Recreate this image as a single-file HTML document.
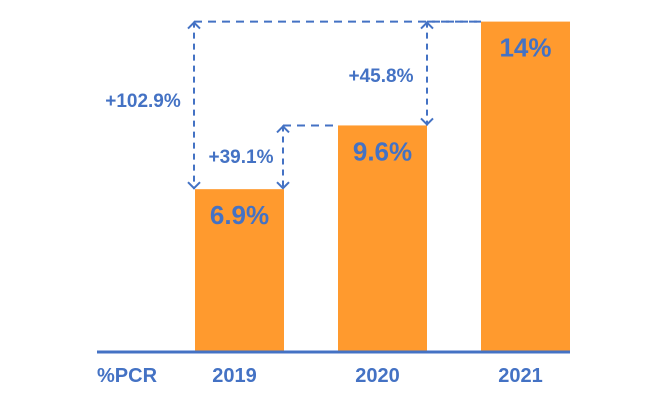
<!DOCTYPE html>
<html><head><meta charset="utf-8"><style>
body{margin:0;background:#fff}
svg{display:block;font-family:"Liberation Sans",sans-serif;font-weight:bold}
</style></head><body>
<svg id="c" width="666" height="413"></svg>
<script>
const categories=["2019","2020","2021"];
const values=[6.9,9.6,14];
const valueLabels=["6.9%","9.6%","14%"];
const growthLabels=["+39.1%","+45.8%","+102.9%"];
const NS="http://www.w3.org/2000/svg";
const svg=document.getElementById('c');
const base=352, scale=23.6, barW=89;
const xs=[195,338,481];
const x=i=>xs[i];
const y=v=>base-v*scale;
const blue="#4472C4", orange="#FF9A2E";
function mk(t,a,p){const e=document.createElementNS(NS,t);for(const k in a)e.setAttribute(k,a[k]);(p||svg).appendChild(e);return e;}
values.forEach((v,i)=>{
 const r=mk('rect',{x:x(i),y:y(v),width:barW,height:base-y(v),fill:orange});
 
 
 const t=mk('text',{x:x(i)+barW/2,y:y(v)+35,'text-anchor':'middle','font-size':26,fill:blue});
 t.textContent=valueLabels[i];
 
 
 const c=mk('text',{x:x(i)+barW/2-5,y:382,'text-anchor':'middle','font-size':20,fill:blue});
 c.textContent=categories[i];
 
 
});
const ax=mk('line',{x1:97,x2:570,y1:352,y2:352,stroke:blue,'stroke-width':3});


const pc=mk('text',{x:97,y:382,'font-size':20,fill:blue});
pc.textContent="%PCR";


function arrow(ax_,fromV,toV,hx2,name){
 const g=mk('g',{stroke:blue,'stroke-width':2,fill:'none'});
 
 
 const y1=y(toV),y2=y(fromV);
 mk('line',{x1:ax_,x2:ax_,y1:y1,y2:y2,'stroke-dasharray':'6,5'},g);
 mk('line',{x1:ax_,x2:hx2,y1:y1,y2:y1,'stroke-dasharray':'8,6'},g);
 mk('polyline',{points:`${ax_-6},${y1+7} ${ax_},${y1+1} ${ax_+6},${y1+7}`},g);
 mk('polyline',{points:`${ax_-6},${y2-7} ${ax_},${y2-1} ${ax_+6},${y2-7}`},g);
}
arrow(283,values[0],values[1],x(1),'growth-arrow-2019-2020');
arrow(427,values[1],values[2],x(2),'growth-arrow-2020-2021');
arrow(194,values[0],values[2],x(2),'growth-arrow-2019-2021');
[[241,163,0],[381,82,1],[143,107,2]].forEach(([lx,ly,i])=>{
 const t=mk('text',{x:lx,y:ly,'text-anchor':'middle','font-size':19,fill:blue});
 t.textContent=growthLabels[i];
 
 
});
</script>
</body></html>
